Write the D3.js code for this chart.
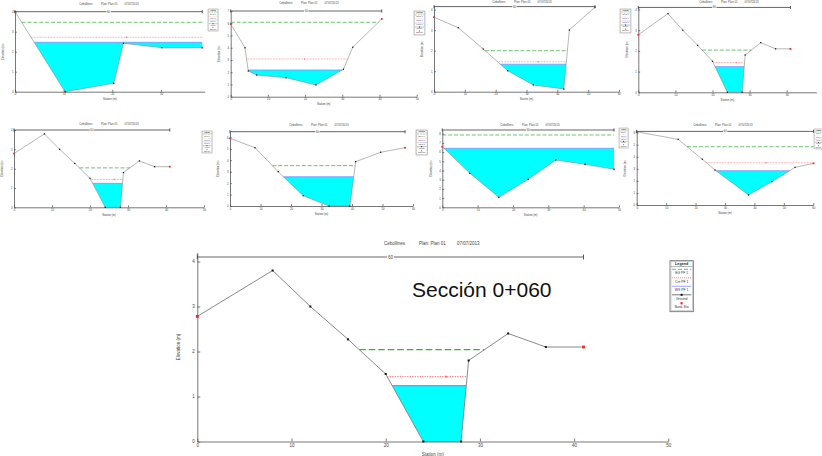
<!DOCTYPE html>
<meta charset="utf-8">
<style>
body { margin: 0; background: #fff; }
svg text { font-family: "Liberation Sans", Arial, sans-serif; }
</style>
<svg id="chart" width="822" height="456"></svg>
<script src="https://cdn.jsdelivr.net/npm/d3@7"></script>
<script>
// cross sections: station (m), elevation (m)
const secA_sta  = [0, 10.3, 20.3, 22.3, 30.2, 38.5];
const secA_elev = [4.0, 0, 0.42, 2.42, 2.2, 2.2];
const secA_lev  = [2.47, 2.72, 3.47];          // WS, Crit, EG

const secB_sta  = [0, 3.84, 4.73, 6.99, 14.87, 22.9, 30.3, 32.8, 40.6];
const secB_elev = [5.94, 4.0, 2.1, 1.77, 1.55, 0.96, 2.24, 4.04, 6.35];
const secB_lev  = [2.18, 3.08, 6.08];

const secC_sta  = [0, 7.88, 15.98, 23.9, 32.2, 42.1, 43.9, 52.2];
const secC_elev = [3.63, 3.12, 2.08, 1.02, 0.33, 0.13, 3.01, 4.12];
const secC_lev  = [1.34, 1.46, 2.0];

// Sección 0+060 (big chart, also panels 4 and 5)
const sec060_sta  = [0, 8, 12, 16, 20, 24, 28, 28.8, 33, 37, 41];
const sec060_elev = [2.78, 3.8, 3.0, 2.27, 1.5, 0, 0, 1.8, 2.4, 2.1, 2.1];
const sec060_lev  = [1.24, 1.44, 2.04];

const secE_sta  = [0, 8.2, 15.8, 24.0, 32.5, 39.3, 41.2, 49.4, 57.4];
const secE_elev = [5.92, 5.1, 3.0, 0.9, 0, 0, 3.88, 4.7, 5.1];
const secE_lev  = [2.56, null, 3.53];

const secF_sta  = [0, 7.8, 16.0, 24.3, 32.1, 40.4, 48.6];
const secF_elev = [6.59, 3.7, 1.09, 3.04, 5.14, 4.67, 4.13];
const secF_lev  = [6.41, null, 7.86];

const secG_sta  = [0, 14.1, 22.3, 26.6, 38.0, 45.9, 53.8, 60.1];
const secG_elev = [6.07, 5.44, 3.79, 2.9, 0.83, 1.93, 3.12, 3.45];
const secG_lev  = [2.84, 3.5, 4.83];

const reachLabel = "60";
const titleParts = ["Cebollines", "Plan: Plan 01", "07/07/2013"];
const legendItems = ["EG PF 1", "Crit PF 1", "WS PF 1", "Ground", "Bank Sta"];
const bigLabel = "Sección 0+060";

const sections = {
  A: {sta: secA_sta, elev: secA_elev, lev: secA_lev},
  B: {sta: secB_sta, elev: secB_elev, lev: secB_lev},
  C: {sta: secC_sta, elev: secC_elev, lev: secC_lev},
  D: {sta: sec060_sta, elev: sec060_elev, lev: sec060_lev},
  E: {sta: secE_sta, elev: secE_elev, lev: secE_lev},
  F: {sta: secF_sta, elev: secF_elev, lev: secF_lev},
  G: {sta: secG_sta, elev: secG_elev, lev: secG_lev}
};

// layout of the screenshots on the page
const panels = [
  {sec: "A", px: [15, 204.7],    xmax: 39, py: [91.7, 11.7],  ymax: 4,    reach: 4.0,  title: [110, 4],   k: 0.62},
  {sec: "B", px: [230.7, 416.7], xmax: 50, py: [96.7, 11],    ymax: 7,    reach: 7,    title: [310, 3],   k: 0.62},
  {sec: "C", px: [434, 619],     xmax: 60, py: [91.7, 6.6],   ymax: 4.15, reach: 4.15, title: [523, 2],   k: 0.62},
  {sec: "D", px: [638.3, 816.4], xmax: 48, py: [92.3, 6.4],   ymax: 4.15, reach: 4.1,  title: [730, 2],   k: 0.62},
  {sec: "D", px: [14, 204],      xmax: 50, py: [207.3, 130],  ymax: 4,    reach: 4.0,  title: [110, 124], k: 0.62},
  {sec: "E", px: [230, 413],     xmax: 60, py: [206, 131.7],  ymax: 6.5,  reach: 6.5,  title: [320, 125], k: 0.62},
  {sec: "F", px: [442.3, 619],   xmax: 50, py: [207.3, 130],  ymax: 8.4,  reach: 8.4,  title: [531, 125], k: 0.62},
  {sec: "G", px: [636.7, 813.3], xmax: 60, py: [205, 131.4],  ymax: 6.1,  reach: 6.1,  title: [724, 125], k: 0.62},
  {sec: "D", px: [197.3, 668.3], xmax: 50, py: [441.5, 252.5], ymax: 4.2, reach: 4.1,  title: [433.5, 243], k: 1}
];

const smallLegends = [[208, 9, 22], [414, 11, 24], [620, 9, 24], [202, 131, 22], [416, 130, 25], [619, 128, 20], [814, 129, 20]];

const svg = d3.select("#chart");

// where a water level meets the ground either side of the thalweg
function wetExtent(sta, elev, level) {
  const n = sta.length;
  const m = d3.minIndex(elev);
  let i = m, j = m;
  while (i > 0 && elev[i - 1] < level) i--;
  while (j < n - 1 && elev[j + 1] < level) j++;
  const lerp = (a, b) => sta[a] + (level - elev[a]) / (elev[b] - elev[a]) * (sta[b] - sta[a]);
  return [i === 0 ? sta[0] : lerp(i - 1, i), j === n - 1 ? sta[n - 1] : lerp(j, j + 1)];
}

function drawSection(p) {
  const sec = sections[p.sec];
  const k = p.k;
  const g = svg.append("g");
  const x = d3.scaleLinear([0, p.xmax], p.px);
  const y = d3.scaleLinear([0, p.ymax], p.py);
  const ground = d3.scaleLinear(sec.sta, sec.elev);
  const [ws, crit, eg] = sec.lev;

  // water
  const [wl, wr] = wetExtent(sec.sta, sec.elev, ws);
  const wpts = [wl, ...sec.sta.filter(s => s > wl && s < wr), wr];
  g.append("path").datum(wpts)
    .attr("d", d3.area().x(d => x(d)).y0(d => y(ground(d))).y1(y(ws)))
    .attr("fill", "#00ffff");
  g.append("line")
    .attr("x1", x(wl)).attr("x2", x(wr)).attr("y1", y(ws)).attr("y2", y(ws))
    .attr("stroke", "#8c8cff").attr("stroke-width", 1.3 * k);

  // axes
  const fs = 4.5 * k;
  const xAxis = g.append("g").attr("transform", `translate(0,${p.py[0]})`);
  xAxis.call(d3.axisBottom(x).tickValues(d3.range(0, p.xmax + 1e-6, 2)).tickSize(-1.5 * k).tickSizeOuter(0).tickFormat(""));
  xAxis.call(d3.axisBottom(x).tickValues(d3.range(0, p.xmax + 1e-6, 10)).tickSize(-3 * k).tickSizeOuter(0).tickPadding(2.5 * k).tickFormat(d3.format("d")));
  const yAxis = g.append("g").attr("transform", `translate(${p.px[0]},0)`);
  yAxis.call(d3.axisLeft(y).tickValues(d3.range(0, p.ymax + 1e-6, 0.2)).tickSize(-1.5 * k).tickSizeOuter(0).tickFormat(""));
  yAxis.call(d3.axisLeft(y).tickValues(d3.range(0, p.ymax + 1e-6, 1)).tickSize(-3 * k).tickSizeOuter(0).tickPadding(2.5 * k).tickFormat(d3.format("d")));
  g.selectAll(".domain, .tick line").attr("stroke", "#555").attr("stroke-width", 0.8);
  g.selectAll(".tick text").attr("font-size", fs).attr("fill", "#444").attr("font-family", null);

  g.append("text").attr("x", (p.px[0] + p.px[1]) / 2).attr("y", p.py[0] + 14 * k)
    .attr("text-anchor", "middle").attr("font-size", fs).attr("fill", "#444").text("Station (m)");
  g.append("text").attr("transform", `translate(${p.px[0] - 17 * k},${(p.py[0] + p.py[1]) / 2}) rotate(-90)`)
    .attr("text-anchor", "middle").attr("font-size", fs).attr("fill", "#444").text("Elevation (m)");

  // energy grade and critical depth lines
  if (eg != null) {
    const [a, b] = wetExtent(sec.sta, sec.elev, eg);
    g.append("line").attr("x1", x(a)).attr("x2", x(b)).attr("y1", y(eg)).attr("y2", y(eg))
      .attr("stroke", "#3fae3f").attr("stroke-width", 1.2 * k).attr("stroke-dasharray", `${6.5 * k},${3 * k}`);
  }
  if (crit != null) {
    const [a, b] = wetExtent(sec.sta, sec.elev, crit);
    g.append("line").attr("x1", x(a)).attr("x2", x(b)).attr("y1", y(crit)).attr("y2", y(crit))
      .attr("stroke", "#ff5a5a").attr("stroke-width", 1 * k).attr("stroke-dasharray", `${1.2 * k},${1.3 * k}`);
    g.append("rect").attr("x", x((a + b) / 2 + 2) - 1 * k).attr("y", y(crit) - 1 * k)
      .attr("width", 2 * k).attr("height", 2 * k).attr("fill", "#ff7070");
  }

  // ground
  const idx = d3.range(sec.sta.length);
  g.append("path").datum(idx)
    .attr("d", d3.line().x(i => x(sec.sta[i])).y(i => y(sec.elev[i])))
    .attr("fill", "none").attr("stroke", "#8a8a8a").attr("stroke-width", 1 * k);
  const last = sec.sta.length - 1;
  const isBank = i => i === 0 || i === last;
  const ms = i => (isBank(i) ? 2.8 : 2) * k;
  g.selectAll("rect.pt").data(idx).join("rect").attr("class", "pt")
    .attr("x", i => x(sec.sta[i]) - ms(i) / 2)
    .attr("y", i => y(sec.elev[i]) - ms(i) / 2)
    .attr("width", ms).attr("height", ms)
    .attr("fill", i => isBank(i) ? "#ff2020" : "#111");

  // reach length bar
  const ry = y(p.reach), rx0 = x(0), rx1 = x(sec.sta[last]);
  g.append("line").attr("x1", rx0).attr("x2", rx1).attr("y1", ry).attr("y2", ry).attr("stroke", "#555").attr("stroke-width", 0.9);
  [rx0, rx1].forEach(v => g.append("line").attr("x1", v).attr("x2", v).attr("y1", ry - 2.5 * k).attr("y2", ry + 2.5 * k)
    .attr("stroke", "#444").attr("stroke-width", 0.9));
  const rm = (rx0 + rx1) / 2;
  g.append("rect").attr("x", rm - 3.5 * k).attr("y", ry - 2 * k).attr("width", 7 * k).attr("height", 4 * k).attr("fill", "#fff");
  g.append("text").attr("x", rm).attr("y", ry + 1.5 * k).attr("text-anchor", "middle")
    .attr("font-size", fs).attr("fill", "#444").text(reachLabel);

  // title
  const offs = [-49.5, -14.5, 23.5];
  titleParts.forEach((t, i) => g.append("text").attr("x", p.title[0] + offs[i] * k).attr("y", p.title[1] + 1.6 * k)
    .attr("font-size", fs).attr("fill", "#444").text(t));
}

const legendStyles = [
  {stroke: "#3fae3f", dash: "4,2"},
  {stroke: "#ff6a6a", dash: "1,1"},
  {stroke: "#8c8cff", dash: null},
  {stroke: "#555", dash: null},
  {stroke: null, dash: null}
];

function drawLegend(x0, y0, h) {
  const s = h / 51;
  const g = svg.append("g").attr("transform", `translate(${x0},${y0}) scale(${s})`);
  g.append("rect").attr("width", 23.3).attr("height", 51).attr("fill", "#fff").attr("stroke", "#666").attr("stroke-width", 0.8);
  g.append("rect").attr("x", 1).attr("y", 1).attr("width", 21.3).attr("height", 49).attr("fill", "none").attr("stroke", "#aaa").attr("stroke-width", 0.5);
  g.append("text").attr("x", 11.65).attr("y", 4.7).attr("text-anchor", "middle").attr("font-size", 3.7)
    .attr("font-weight", "bold").attr("fill", "#222").text("Legend");
  g.append("line").attr("x1", 1).attr("x2", 22.3).attr("y1", 5.9).attr("y2", 5.9).attr("stroke", "#666").attr("stroke-width", 0.5);
  legendItems.forEach((name, i) => {
    const ly = 8.6 + i * 8.5, st = legendStyles[i];
    if (st.stroke) {
      g.append("line").attr("x1", 2).attr("x2", 21.3).attr("y1", ly).attr("y2", ly)
        .attr("stroke", st.stroke).attr("stroke-width", 0.8).attr("stroke-dasharray", st.dash);
    }
    if (i === 3) g.append("rect").attr("x", 10.6).attr("y", ly - 1).attr("width", 2).attr("height", 2).attr("fill", "#111");
    if (i === 4) g.append("rect").attr("x", 10.5).attr("y", ly - 1.1).attr("width", 2.2).attr("height", 2.2).attr("fill", "#ff2020");
    g.append("text").attr("x", 11.65).attr("y", ly + 5.2).attr("text-anchor", "middle").attr("font-size", 3.4)
      .attr("fill", "#333").text(name);
  });
}

panels.forEach(drawSection);
smallLegends.forEach(([a, b, h]) => drawLegend(a, b, h));
drawLegend(670, 260.7, 51);

svg.append("text").attr("x", 412).attr("y", 297).attr("font-size", 21).attr("fill", "#111").text(bigLabel);
</script>
